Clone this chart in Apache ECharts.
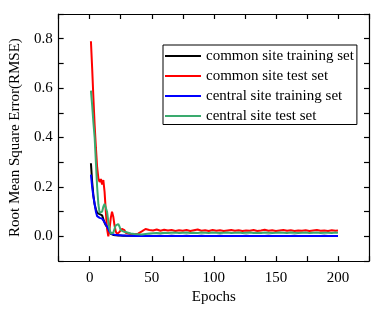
<!DOCTYPE html>
<html>
<head>
<meta charset="utf-8">
<script src="https://cdn.jsdelivr.net/npm/echarts@6/dist/echarts.min.js"></script>
<style>html,body{margin:0;padding:0;background:#fff}#c{width:380px;height:310px}</style>
</head>
<body>
<div id="c"></div>
<script>
var epochs = [1,2,3,4,5,6,7,8,9,10,11,12,13,14,15,16,17,18,19,20,21,22,23,24,25,26,27,28,29,30,
  33,36,39,42,45,48,51,54,57,60,63,66,69,72,75,78,81,84,87,90,93,96,99,102,105,108,111,114,117,120,
  123,126,129,132,135,138,141,144,147,150,153,156,159,162,165,168,171,174,177,180,183,186,189,192,195,198,200];

var commonTrain = [0.296,0.22,0.165,0.13,0.11,0.095,0.088,0.09,0.095,0.085,0.07,0.055,0.045,0.038,0.03,0.02,0.01,0.007,0.006,0.005,0.005,0.004,0.004,0.004,0.004,0.003,0.003,0.003,0.003,0.003,
  0.003,0.003,0.002,0.003,0.002,0.003,0.002,0.002,0.003,0.002,0.002,0.003,0.002,0.002,0.002,0.003,0.002,0.002,0.002,0.003,0.002,0.002,0.002,0.002,0.003,0.002,0.002,0.002,0.002,0.002,
  0.002,0.003,0.002,0.002,0.002,0.002,0.002,0.003,0.002,0.002,0.002,0.002,0.002,0.002,0.003,0.002,0.002,0.002,0.002,0.002,0.002,0.002,0.003,0.002,0.002,0.002,0.002];

var commonTest = [0.79,0.68,0.56,0.45,0.36,0.28,0.235,0.22,0.232,0.21,0.228,0.18,0.1,0.03,0.0,0.03,0.075,0.1,0.08,0.045,0.02,0.01,0.012,0.018,0.022,0.03,0.036,0.025,0.015,0.012,
  0.01,0.009,0.011,0.02,0.03,0.026,0.024,0.028,0.023,0.027,0.024,0.026,0.022,0.025,0.023,0.026,0.022,0.025,0.028,0.023,0.025,0.022,0.026,0.023,0.025,0.022,0.024,0.026,0.023,0.025,
  0.022,0.024,0.023,0.026,0.022,0.024,0.027,0.023,0.025,0.022,0.024,0.026,0.023,0.025,0.022,0.024,0.023,0.025,0.022,0.024,0.026,0.023,0.024,0.022,0.025,0.023,0.024];

var centralTrain = [0.25,0.2,0.16,0.13,0.1,0.082,0.075,0.075,0.074,0.072,0.066,0.057,0.048,0.04,0.03,0.02,0.013,0.01,0.008,0.007,0.006,0.006,0.005,0.005,0.005,0.004,0.004,0.004,0.003,0.003,
  0.003,0.002,0.002,0.002,0.002,0.002,0.002,0.002,0.002,0.002,0.002,0.002,0.002,0.002,0.002,0.002,0.002,0.002,0.002,0.002,0.002,0.002,0.002,0.002,0.002,0.002,0.002,0.002,0.002,0.002,
  0.002,0.002,0.002,0.002,0.002,0.002,0.002,0.002,0.002,0.002,0.002,0.002,0.002,0.002,0.002,0.002,0.002,0.002,0.002,0.002,0.002,0.002,0.002,0.002,0.002,0.002,0.002];

var centralTest = [0.59,0.53,0.46,0.4,0.3,0.2,0.13,0.095,0.09,0.1,0.12,0.132,0.128,0.1,0.06,0.03,0.012,0.01,0.015,0.03,0.045,0.052,0.05,0.04,0.025,0.018,0.02,0.022,0.018,0.015,
  0.012,0.01,0.009,0.008,0.01,0.012,0.013,0.014,0.013,0.015,0.014,0.015,0.016,0.014,0.015,0.016,0.014,0.015,0.014,0.016,0.015,0.014,0.016,0.015,0.014,0.015,0.016,0.014,0.015,0.016,
  0.014,0.015,0.016,0.014,0.015,0.014,0.016,0.015,0.014,0.015,0.016,0.015,0.014,0.016,0.015,0.014,0.015,0.016,0.014,0.015,0.016,0.014,0.015,0.015,0.014,0.016,0.015];

var seriesNames = ['common site training set','common site test set','central site training set','central site test set'];
var seriesColors = ['#000000','#ff0000','#0000ff','#3aaa6e'];
var seriesValues = [commonTrain, commonTest, centralTrain, centralTest];

var xTickLabels = ['0','50','100','150','200'];
var yTickLabels = ['0.0','0.2','0.4','0.6','0.8'];

var FONT = "'Liberation Serif','Times New Roman',serif";

function pairs(vals){ return epochs.map(function(e,i){ return [e, vals[i]]; }); }

var chart = echarts.init(document.getElementById('c'), null, {renderer:'canvas'});

function axisLine(){ return {show:true, onZero:false, lineStyle:{color:'#000', width:1.2}}; }
function tick(){ return {show:true, inside:true, length:5, alignWithLabel:false, lineStyle:{color:'#000', width:1.2, opacity:1}}; }

function xFmt(v){ var s = String(Math.round(v)); return xTickLabels.indexOf(s) >= 0 ? s : ''; }
function yFmt(v){ var s = (Math.round(v*10)/10).toFixed(1); if (s === '-0.0') s = '0.0'; return yTickLabels.indexOf(s) >= 0 ? s : ''; }

chart.setOption({
  animation:false,
  backgroundColor:'#fff',
  textStyle:{fontFamily:FONT},
  grid:{left:57, right:11, top:14, bottom:45, containLabel:false},
  legend:{
    orient:'vertical', left:163, top:45,
    data:seriesNames,
    icon:'rect', itemWidth:36, itemHeight:2, itemGap:5,
    padding:[3.5,3,1,2],
    borderColor:'#000', borderWidth:1, borderRadius:0,
    textStyle:{fontFamily:FONT, fontSize:15, color:'#000', lineHeight:15}
  },
  xAxis:[
    {type:'value', position:'bottom', min:-25, max:225, interval:25,
     axisLine:axisLine(), axisTick:tick(), splitLine:{show:false},
     axisLabel:{show:true, formatter:xFmt, fontFamily:FONT, fontSize:15, color:'#000', margin:9},
     name:'Epochs', nameLocation:'middle', nameGap:26,
     nameTextStyle:{fontFamily:FONT, fontSize:15, color:'#000'}},
    {type:'value', position:'top', min:-25, max:225, interval:25,
     axisLine:axisLine(), axisTick:tick(), splitLine:{show:false},
     axisLabel:{show:true, formatter:function(){return '';}}}
  ],
  yAxis:[
    {type:'value', position:'left', min:-0.1, max:0.9, interval:0.1,
     axisLine:axisLine(), axisTick:tick(), splitLine:{show:false},
     axisLabel:{show:true, formatter:yFmt, fontFamily:FONT, fontSize:15, color:'#000', margin:6},
     name:'Root Mean Square Error(RMSE)', nameLocation:'middle', nameGap:33,
     nameTextStyle:{fontFamily:FONT, fontSize:15, color:'#000'}},
    {type:'value', position:'right', min:-0.1, max:0.9, interval:0.1,
     axisLine:axisLine(), axisTick:tick(), splitLine:{show:false},
     axisLabel:{show:true, formatter:function(){return '';}}}
  ],
  series: seriesNames.map(function(n,i){
    return {name:n, type:'line', xAxisIndex:0, yAxisIndex:0, data:pairs(seriesValues[i]),
      symbol:'none', showSymbol:false, lineStyle:{width:2, color:seriesColors[i]},
      itemStyle:{color:seriesColors[i]}};
  })
});
</script>
</body>
</html>
